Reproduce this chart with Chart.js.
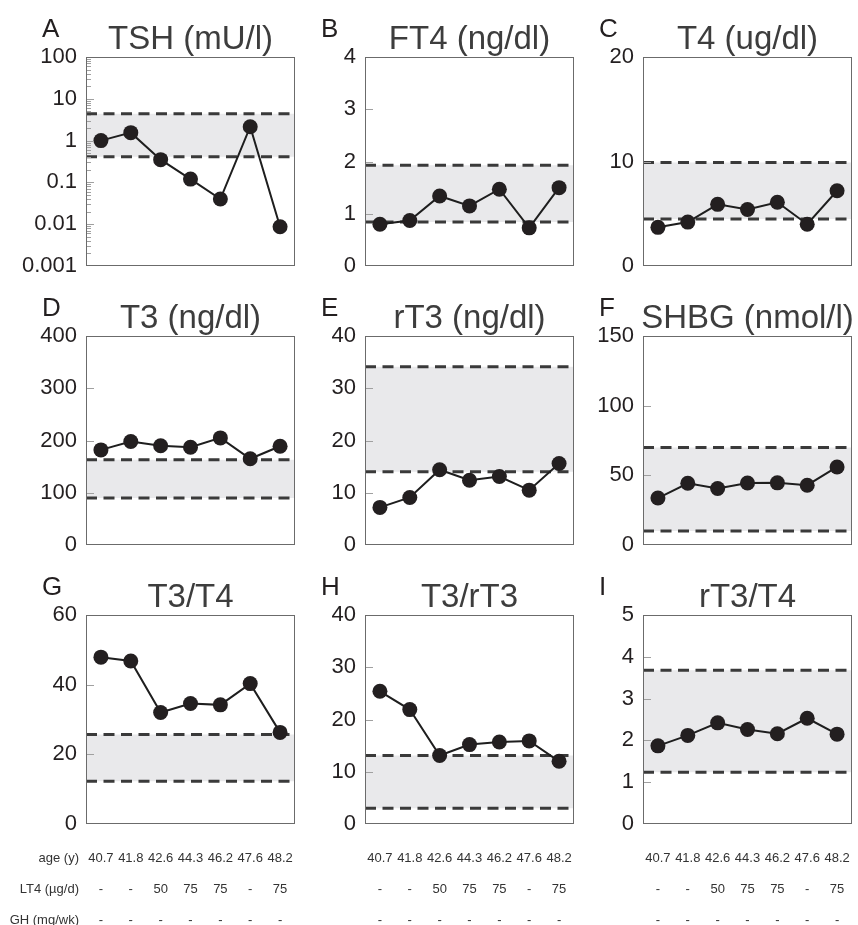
<!DOCTYPE html>
<html>
<head>
<meta charset="utf-8">
<script src="https://cdn.jsdelivr.net/npm/chart.js@4.4.1/dist/chart.umd.min.js"></script>
<style>
body { margin: 0; background: #fff; }
#graficas { position: relative; width: 858px; height: 925px; overflow: hidden; }
#graficas canvas { position: absolute; }
</style>
</head>
<body>
<div id="graficas"></div>
<script>
var edades = ['40.7', '41.8', '42.6', '44.3', '46.2', '47.6', '48.2'];
var dosisLT4 = ['-', '-', '50', '75', '75', '-', '75'];
var dosisGH = ['-', '-', '-', '-', '-', '-', '-'];
var filasTabla = ['age (y)', 'LT4 (\u00b5g/d)', 'GH (mg/wk)'];

var letras = ['A', 'B', 'C', 'D', 'E', 'F', 'G', 'H', 'I'];
var titulos = ['TSH (mU/l)', 'FT4 (ng/dl)', 'T4 (ug/dl)', 'T3 (ng/dl)', 'rT3 (ng/dl)',
    'SHBG (nmol/l)', 'T3/T4', 'T3/rT3', 'rT3/T4'];

var tsh = [1.0, 1.55, 0.35, 0.12, 0.04, 2.15, 0.0087];
var ft4 = [0.80, 0.87, 1.34, 1.15, 1.47, 0.73, 1.50];
var t4 = [3.7, 4.2, 5.9, 5.4, 6.1, 4.0, 7.2];
var t3 = [182, 198, 190, 187, 205, 165, 189];
var rt3 = [7.2, 9.1, 14.4, 12.4, 13.1, 10.5, 15.6];
var shbg = [33.7, 44.3, 40.5, 44.5, 44.6, 42.9, 56];
var t3t4 = [47.9, 46.8, 32.0, 34.6, 34.2, 40.3, 26.3];
var t3rt3 = [25.4, 21.9, 13.1, 15.2, 15.7, 15.9, 12.0];
var rt3t4 = [1.87, 2.12, 2.42, 2.26, 2.16, 2.53, 2.15];

// reference ranges (lower / upper) per panel
var rangoBajo = [0.41, 0.84, 4.5, 90, 14, 10, 12.3, 3, 1.24];
var rangoAlto = [4.4, 1.93, 9.9, 163, 34.1, 70, 25.7, 13.1, 3.68];

// y axis limits and tick step (panel A is log 0.001 - 100)
var ejeMin = [0.001, 0, 0, 0, 0, 0, 0, 0, 0];
var ejeMax = [100, 4, 20, 400, 40, 150, 60, 40, 5];
var ejePaso = [null, 1, 10, 100, 10, 50, 20, 10, 1];

var series = [tsh, ft4, t4, t3, rt3, shbg, t3t4, t3rt3, rt3t4];

Chart.defaults.font.family = '"Liberation Sans", Arial, sans-serif';

function esPotencia(v) {
    var e = Math.log10(v);
    return Math.abs(e - Math.round(e)) < 1e-6;
}

function graficaPanel(n) {
    var col = n % 3;
    var fila = Math.floor(n / 3);
    var esLog = n === 0;
    var ultimaFila = fila === 2;

    var divGraficas = document.getElementById('graficas');
    var canvas = document.createElement('canvas');
    canvas.width = 300;
    canvas.height = ultimaFila ? 367 : 279;
    canvas.style.left = [0, 279, 557][col] + 'px';
    canvas.style.top = (fila * 279) + 'px';
    divGraficas.appendChild(canvas);

    var puntos = series[n].map(function (v, i) { return { x: i, y: v }; });
    var ancho = edades.length - 0.5;
    var lineaAlta = [{ x: -0.5, y: rangoAlto[n] }, { x: ancho, y: rangoAlto[n] }];
    var lineaBaja = [{ x: -0.5, y: rangoBajo[n] }, { x: ancho, y: rangoBajo[n] }];

    var guion = {
        borderColor: '#3a3a3a',
        borderWidth: 3,
        borderDash: [11, 6.5],
        pointRadius: 0
    };

    var ejeX = {
        type: 'linear',
        min: -0.5,
        max: ancho,
        display: ultimaFila,
        grid: { display: false, drawTicks: false },
        border: { display: false },
        afterBuildTicks: function (eje) {
            eje.ticks = edades.map(function (e, i) { return { value: i }; });
        },
        ticks: {
            autoSkip: false,
            maxRotation: 0,
            padding: 19,
            color: '#333',
            font: { size: 13, lineHeight: 31 / 13 },
            callback: function (v, i) { return [edades[i], dosisLT4[i], dosisGH[i]]; }
        },
        afterFit: function (eje) {
            if (ultimaFila) eje.height = 101;
            eje.paddingLeft = 0;
            eje.paddingRight = 0;
        }
    };

    var ejeY = {
        type: esLog ? 'logarithmic' : 'linear',
        min: ejeMin[n],
        max: ejeMax[n],
        grid: { display: false, drawTicks: false },
        border: { display: false },
        ticks: {
            autoSkip: false,
            padding: 9,
            color: '#231f20',
            font: { size: 22 }
        },
        afterFit: function (eje) {
            eje.width = 86;
            eje.paddingTop = 0;
            eje.paddingBottom = 0;
        }
    };
    if (esLog) {
        ejeY.afterBuildTicks = function (eje) {
            var t = [];
            for (var e = -3; e <= 2; e++) {
                for (var m = 1; m <= 9; m++) {
                    if (e === 2 && m > 1) break;
                    t.push({ value: m * Math.pow(10, e) });
                }
            }
            eje.ticks = t;
        };
        ejeY.ticks.callback = function (v) {
            return esPotencia(v) ? String(Number(v.toPrecision(1))) : '';
        };
    } else {
        ejeY.ticks.stepSize = ejePaso[n];
    }

    var marco = {
        id: 'marco' + n,
        afterDatasetsDraw: function (chart) {
            var ctx = chart.ctx, area = chart.chartArea, y = chart.scales.y;
            ctx.save();
            ctx.strokeStyle = '#a0a0a0';
            ctx.lineWidth = 1;
            y.ticks.forEach(function (t) {
                var py = Math.round(y.getPixelForValue(t.value)) + 0.5;
                if (py <= area.top + 1 || py >= area.bottom - 1) return;
                var largo = esLog && !esPotencia(t.value) ? 5 : 8;
                ctx.beginPath();
                ctx.moveTo(area.left, py);
                ctx.lineTo(area.left + largo, py);
                ctx.stroke();
            });
            ctx.strokeStyle = '#6b6b6b';
            ctx.strokeRect(Math.round(area.left) + 0.5, Math.round(area.top) + 0.5,
                Math.round(area.right - area.left) - 1, Math.round(area.bottom - area.top) - 1);
            ctx.restore();
        },
        afterDraw: function (chart) {
            var ctx = chart.ctx, area = chart.chartArea;
            ctx.save();
            ctx.textBaseline = 'alphabetic';
            ctx.fillStyle = '#231f20';
            ctx.textAlign = 'left';
            ctx.font = '26px "Liberation Sans", Arial, sans-serif';
            ctx.fillText(letras[n], 42, 37);
            ctx.fillStyle = '#3d3d3d';
            ctx.textAlign = 'center';
            ctx.font = '33px "Liberation Sans", Arial, sans-serif';
            ctx.fillText(titulos[n], (area.left + area.right) / 2, 49);
            if (n === 6) {
                var x = chart.scales.x;
                ctx.fillStyle = '#333';
                ctx.textAlign = 'right';
                ctx.textBaseline = 'middle';
                ctx.font = '13px "Liberation Sans", Arial, sans-serif';
                filasTabla.forEach(function (texto, i) {
                    ctx.fillText(texto, area.left - 7, x.top + 19 + 15.5 + i * 31);
                });
            }
            ctx.restore();
        }
    };

    new Chart(canvas, {
        type: 'line',
        data: {
            datasets: [
                {
                    data: puntos,
                    borderColor: '#1e1e1e',
                    borderWidth: 2,
                    pointRadius: 7.5,
                    pointBackgroundColor: '#231f20',
                    pointBorderWidth: 0,
                    fill: false
                },
                Object.assign({ data: lineaAlta, fill: false }, guion),
                Object.assign({ data: lineaBaja, fill: '-1', backgroundColor: '#e9e9eb' }, guion)
            ]
        },
        options: {
            responsive: false,
            animation: false,
            devicePixelRatio: 1,
            layout: {
                autoPadding: false,
                padding: { top: 57, right: 5, left: 0, bottom: ultimaFila ? 0 : 13 }
            },
            plugins: { legend: { display: false }, tooltip: { enabled: false } },
            scales: { x: ejeX, y: ejeY }
        },
        plugins: [marco]
    });
}

for (var n = 0; n < 9; n++) {
    graficaPanel(n);
}
</script>
</body>
</html>
